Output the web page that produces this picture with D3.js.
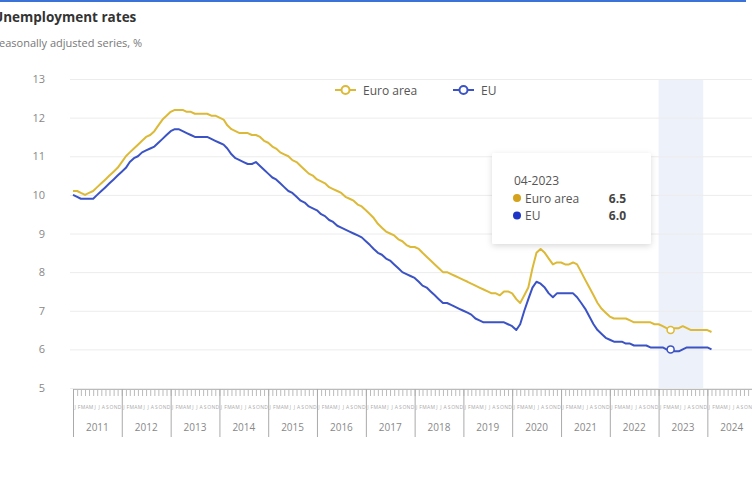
<!DOCTYPE html>
<html><head><meta charset="utf-8">
<script src="https://cdn.jsdelivr.net/npm/d3@7"></script>
<style>
html,body{margin:0;padding:0;background:#fff;overflow:hidden;}
svg{display:block;font-family:"Open Sans",Lato,sans-serif;}
</style></head>
<body>
<script>
const startYear = 2011;
const years = ["2011","2012","2013","2014","2015","2016","2017","2018","2019","2020","2021","2022","2023","2024"];
const monthLetters = ["J","F","M","A","M","J","J","A","S","O","N","D"];
const yTicks = [5,6,7,8,9,10,11,12,13];
const seriesNames = ["Euro area","EU"];
const euroArea = [
 10.1,10.1,10.05,10.0,10.05,10.1,10.2,10.3,10.4,10.5,10.6,10.7,
 10.85,11.0,11.1,11.2,11.3,11.4,11.5,11.55,11.65,11.8,11.95,12.05,
 12.15,12.2,12.2,12.2,12.15,12.15,12.1,12.1,12.1,12.1,12.05,12.05,
 12.0,11.95,11.8,11.7,11.65,11.6,11.6,11.6,11.55,11.55,11.5,11.4,
 11.35,11.25,11.2,11.1,11.05,11.0,10.9,10.85,10.75,10.65,10.55,10.5,
 10.4,10.35,10.3,10.2,10.15,10.1,10.05,9.95,9.9,9.85,9.75,9.7,
 9.6,9.5,9.4,9.25,9.15,9.05,9.0,8.95,8.85,8.8,8.7,8.65,
 8.65,8.6,8.5,8.4,8.3,8.2,8.1,8.0,8.0,7.95,7.9,7.85,
 7.8,7.75,7.7,7.65,7.6,7.55,7.5,7.45,7.45,7.4,7.5,7.5,
 7.45,7.3,7.2,7.4,7.6,8.1,8.5,8.6,8.5,8.35,8.2,8.25,
 8.25,8.2,8.2,8.25,8.2,8.0,7.8,7.6,7.4,7.2,7.05,6.95,
 6.85,6.8,6.8,6.8,6.8,6.75,6.7,6.7,6.7,6.7,6.7,6.65,
 6.65,6.6,6.55,6.5,6.55,6.55,6.6,6.55,6.5,6.5,6.5,6.5,
 6.5,6.45
];
const eu = [
 10.0,9.95,9.9,9.9,9.9,9.9,10.0,10.1,10.2,10.3,10.4,10.5,
 10.6,10.7,10.85,10.95,11.0,11.1,11.15,11.2,11.25,11.35,11.45,11.55,
 11.65,11.7,11.7,11.65,11.6,11.55,11.5,11.5,11.5,11.5,11.45,11.4,
 11.35,11.3,11.2,11.05,10.95,10.9,10.85,10.8,10.8,10.85,10.75,10.65,
 10.55,10.45,10.4,10.3,10.2,10.1,10.05,9.95,9.85,9.8,9.7,9.65,
 9.6,9.5,9.45,9.35,9.3,9.2,9.15,9.1,9.05,9.0,8.95,8.9,
 8.8,8.7,8.6,8.5,8.45,8.35,8.3,8.2,8.1,8.0,7.95,7.9,
 7.85,7.75,7.65,7.6,7.5,7.4,7.3,7.2,7.2,7.15,7.1,7.05,
 7.0,6.95,6.9,6.8,6.75,6.7,6.7,6.7,6.7,6.7,6.7,6.65,
 6.6,6.5,6.65,7.0,7.3,7.6,7.75,7.7,7.6,7.45,7.35,7.45,
 7.45,7.45,7.45,7.45,7.35,7.2,7.05,6.85,6.65,6.5,6.4,6.3,
 6.25,6.2,6.2,6.2,6.15,6.15,6.1,6.1,6.1,6.1,6.05,6.05,
 6.05,6.05,6.0,6.0,5.95,5.95,6.0,6.05,6.05,6.05,6.05,6.05,
 6.05,6.0
];
const hoverLabel = "04-2023";
const hoverIndex = 147;
const bandStartIndex = 144, bandEndIndex = 155;
const colors = {"Euro area":"#dcb936","EU":"#3b53c4"};
const dotColors = {"Euro area":"#d4a21c","EU":"#1f35c8"};

const W = 752, H = 503;
const svg = d3.select("body").append("svg").attr("width",W).attr("height",H);

const dateOf = i => new Date(Date.UTC(startYear, i, 1));
const x = d3.scaleUtc().domain([dateOf(0), dateOf(168)]).range([73, 73 + 168*4.067]);
const y = d3.scaleLinear().domain([5,13]).range([388,79]);

// top bar
svg.append("rect").attr("x",0).attr("y",0).attr("width",746).attr("height",2).attr("fill","#3a72d8");

// titles
svg.append("text").attr("x",-7).attr("y",22).attr("font-size",13.5).attr("font-weight",700)
  .attr("fill","#333").text("Unemployment rates");
svg.append("text").attr("x",-7).attr("y",47).attr("font-size",11).attr("fill","#777")
  .text("Seasonally adjusted series, %");

// band
svg.append("rect").attr("x",x(dateOf(bandStartIndex))).attr("y",79)
  .attr("width",x(dateOf(bandEndIndex))-x(dateOf(bandStartIndex))).attr("height",309)
  .attr("fill","#edf1f9");

// gridlines
const gAxisY = svg.append("g").attr("transform","translate(70,0)")
  .call(d3.axisLeft(y).tickValues(yTicks).tickSize(-690).tickPadding(25).tickFormat(d3.format("d")));
gAxisY.select(".domain").remove();
gAxisY.selectAll(".tick line").attr("stroke","#ececec");
gAxisY.selectAll(".tick text").attr("fill","#888").attr("font-size",11).attr("font-family","Open Sans, sans-serif");

// x axis: monthly ticks
const months = d3.range(0,169).map(dateOf);
const gx = svg.append("g").attr("transform","translate(0,389)")
  .call(d3.axisBottom(x).tickValues(months).tickSize(7).tickFormat(""));
gx.select(".domain").attr("stroke","#bbb");
gx.selectAll(".tick line").attr("stroke","#bbb");
// year separators
const yearDates = d3.range(0,years.length+1).map(i=>dateOf(i*12));
const gy = svg.append("g").attr("transform","translate(0,389)")
  .call(d3.axisBottom(x).tickValues(yearDates).tickSize(48).tickFormat(""));
gy.select(".domain").remove();
gy.selectAll(".tick line").attr("stroke","#aaa");
// month letters
svg.append("g").selectAll("text").data(d3.range(0,168)).join("text")
  .attr("x",i=>(x(dateOf(i))+x(dateOf(i+1)))/2).attr("y",409)
  .attr("text-anchor","middle").attr("font-size",5).attr("fill","#aaa")
  .text(i=>monthLetters[i%12]);
// year labels
svg.append("g").selectAll("text").data(years).join("text")
  .attr("x",(d,i)=>(x(dateOf(i*12))+x(dateOf(i*12+12)))/2).attr("y",431)
  .attr("text-anchor","middle").attr("font-size",10).attr("fill","#888").text(d=>d);

// lines
const line = d3.line().x((d,i)=>x(dateOf(i))).y(d=>y(d));
const data = {"Euro area":euroArea,"EU":eu};
seriesNames.forEach(n=>{
  svg.append("path").datum(data[n]).attr("d",line).attr("fill","none")
    .attr("stroke",colors[n]).attr("stroke-width",2).attr("stroke-linejoin","round");
});
// hover markers
seriesNames.forEach(n=>{
  svg.append("circle").attr("cx",x(dateOf(hoverIndex))).attr("cy",y(data[n][hoverIndex]))
    .attr("r",3.5).attr("fill","#fff").attr("stroke",colors[n]).attr("stroke-width",1.5);
});

// legend
const leg = svg.append("g");
const legItems = [{n:"Euro area",x:335},{n:"EU",x:453}];
legItems.forEach(it=>{
  leg.append("line").attr("x1",it.x).attr("x2",it.x+21).attr("y1",90).attr("y2",90)
    .attr("stroke",colors[it.n]).attr("stroke-width",2);
  leg.append("circle").attr("cx",it.x+10.5).attr("cy",90).attr("r",4).attr("fill","#fff")
    .attr("stroke",colors[it.n]).attr("stroke-width",2);
  leg.append("text").attr("x",it.x+28).attr("y",94.5).attr("font-size",12).attr("fill","#555").text(it.n);
});

// tooltip
const defs = svg.append("defs");
const f = defs.append("filter").attr("id","sh").attr("x","-20%").attr("y","-20%").attr("width","140%").attr("height","140%");
f.append("feDropShadow").attr("dx",0).attr("dy",2).attr("stdDeviation",3).attr("flood-color","#000").attr("flood-opacity",0.15);
const tt = svg.append("g").attr("transform","translate(492,153)");
tt.append("rect").attr("width",159).attr("height",91).attr("rx",2).attr("fill","#fff").attr("filter","url(#sh)");
tt.append("text").attr("x",22).attr("y",32).attr("font-size",12).attr("fill","#555").text(hoverLabel);
seriesNames.forEach((n,k)=>{
  const yy = 45 + k*17.5;
  tt.append("circle").attr("cx",25).attr("cy",yy).attr("r",4).attr("fill",dotColors[n]);
  tt.append("text").attr("x",33).attr("y",yy+4.5).attr("font-size",12).attr("fill","#555").text(n);
  tt.append("text").attr("x",134).attr("y",yy+4.5).attr("font-size",12).attr("font-weight",700)
    .attr("text-anchor","end").attr("fill","#444").text(d3.format(".1f")(data[n][hoverIndex]));
});
</script>
</body></html>
